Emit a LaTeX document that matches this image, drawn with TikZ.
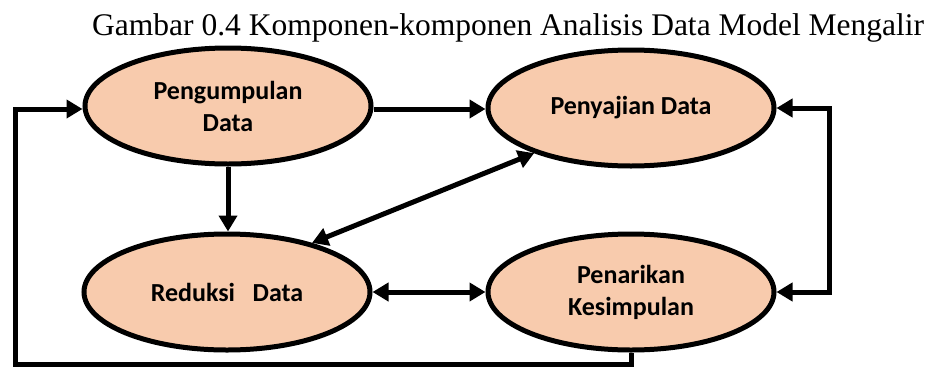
\documentclass[tikz,border=0pt]{standalone}
\usepackage{fontspec}
\setmainfont{Liberation Serif}
\newfontfamily\boxfont{Carlito}
\usetikzlibrary{shapes.geometric,arrows.meta}
\definecolor{peach}{HTML}{F8CBAD}
\tikzset{
  stage/.style={ellipse, draw=black, line width=5pt, fill=peach,
    minimum width=286pt, minimum height=116pt, inner sep=0pt,
    align=center, font=\boxfont\bfseries\fontsize{26}{32}\selectfont},
  tip/.style={Triangle[length=16pt,width=18pt]},
  flow/.style={line width=5pt, -{Triangle[length=16pt,width=18pt]}},
  flow2/.style={line width=5pt, {Triangle[length=16pt,width=18pt]}-{Triangle[length=16pt,width=18pt]}},
}
\begin{document}
\begin{tikzpicture}[x=1pt,y=-1pt]
  \useasboundingbox (0,0) rectangle (936,367);
  % caption
  \node[anchor=base west, inner sep=0pt, font=\fontsize{31.5}{36}\selectfont]
    (title) at (92,35) {Gambar 0.4 Komponen-komponen Analisis Data Model Mengalir};
  % the four stages
  \node[stage] (kumpul) at (228,106) {Pengumpulan\\Data};
  \node[stage] (saji)   at (631,108) {Penyajian Data};
  \node[stage] (reduksi) at (227,292) {Reduksi\ \ \ Data};
  \node[stage] (tarik)  at (631,292) {Penarikan\\Kesimpulan};
  % connectors
  \draw[flow] (kumpul.east |- 0,109) -- (saji.west |- 0,109);
  \draw[flow] (kumpul.south) -- (reduksi.north -| kumpul.south);
  \draw[flow2] (reduksi.30) -- (saji.205);
  \draw[flow2] (reduksi.east) -- (tarik.west);
  \draw[flow2] (saji.east) -- ++(53,0) |- (tarik.east);
  \coordinate (loopcorner) at (15.5,364.5);
  \draw[flow] (tarik.south) |- (loopcorner) |- (kumpul.west |- 0,109);
\end{tikzpicture}
\end{document}
